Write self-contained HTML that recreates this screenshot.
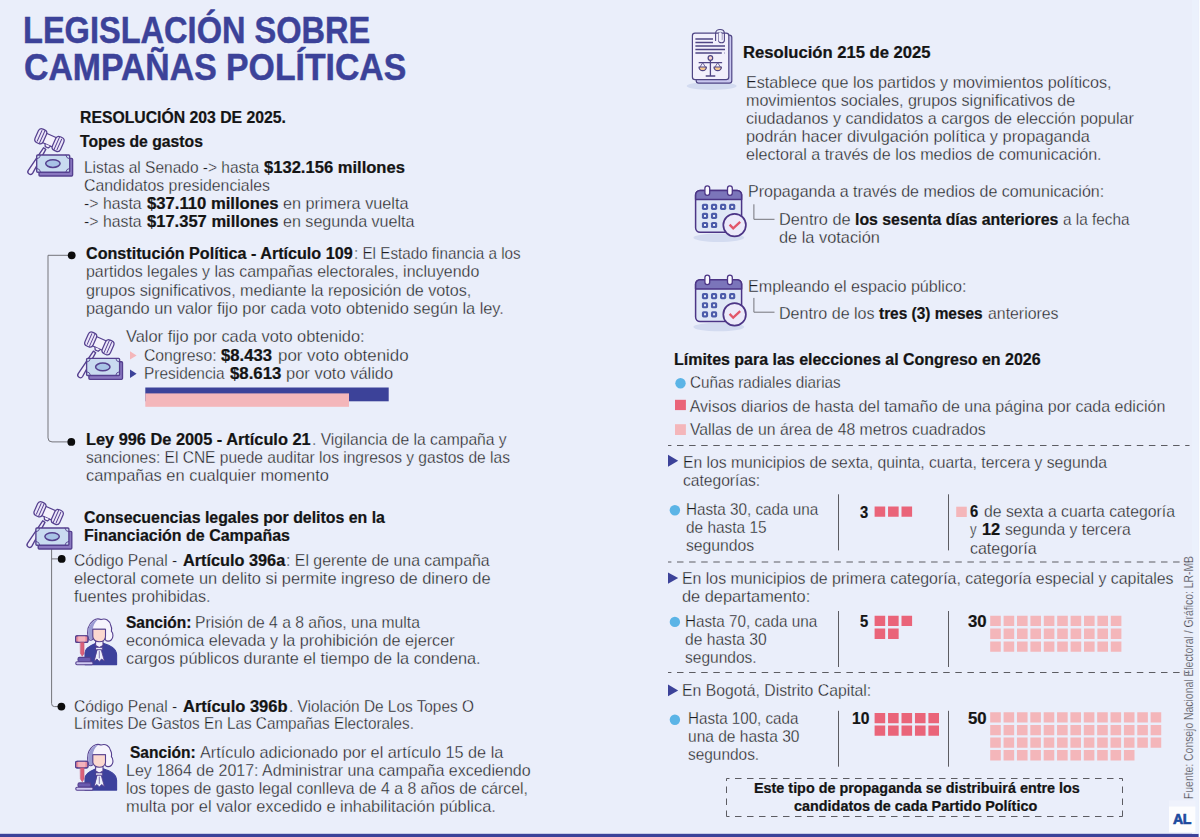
<!DOCTYPE html>
<html lang="es"><head><meta charset="utf-8"><title>Legislación sobre campañas políticas</title>
<style>
html,body{margin:0;padding:0}
body{background:#eaeefa;width:1200px;height:837px;overflow:hidden;font-family:"Liberation Sans",sans-serif}
#page{position:relative;width:1200px;height:837px;background:#eaeefa;overflow:hidden}
#art{position:absolute;left:0;top:0}
.t{position:absolute;white-space:nowrap;transform-origin:0 0;color:#1c1c22;line-height:normal;-webkit-text-stroke:0.3px #eaeefa}
.t b{color:#141414;font-weight:bold;-webkit-text-stroke:0.22px #141414}
.t.c b{color:inherit;-webkit-text-stroke:0.45px #3c4299}
#src{position:absolute;left:1182.2px;top:799px;width:260px;height:14px;transform-origin:0 0;transform:rotate(-90deg);font-size:12.5px;line-height:14px;color:#3a3a42;white-space:nowrap;-webkit-text-stroke:0.25px #eaeefa}
#src span{display:inline-block;transform-origin:0 0}
.t.c{-webkit-text-stroke:0.45px #3c4299}

</style></head>
<body>
<div id="page">
<svg id="art" width="1200" height="837" viewBox="0 0 1200 837">
<rect x="0" y="833.8" width="1198.6" height="3.2" fill="#3c4299"/>
<rect x="1192" y="0" width="6.4" height="833.8" fill="#ebf1fc"/>
<rect x="1199" y="0" width="1" height="837" fill="#fafcfd"/>
<path d="M71.7 255.3 H48 V437.9 Q48 441.9 52 441.9 H71.2" fill="none" stroke="#74747a" stroke-width="1"/>
<circle cx="71.7" cy="255.3" r="3.9" fill="#0c0c0c"/>
<circle cx="71.3" cy="441.9" r="3.9" fill="#0c0c0c"/>
<path d="M51.6 548.5 V703.6 Q51.6 706.6 54.6 706.6 H61.4 M51.6 558.9 H61.7" fill="none" stroke="#74747a" stroke-width="1"/>
<circle cx="61.7" cy="558.9" r="3.9" fill="#0c0c0c"/>
<circle cx="61.4" cy="706.6" r="3.9" fill="#0c0c0c"/>
<rect x="145.3" y="387.5" width="243.4" height="13.8" fill="#3c4299"/>
<rect x="145.3" y="393.4" width="203.7" height="13.4" fill="#f4b6ba"/>
<path d="M130 351.2 L136.6 355.4 L130 359.6 Z" fill="#f4b6ba"/>
<path d="M130 369.6 L136.6 373.8 L130 378 Z" fill="#3c4299"/>
<g transform="translate(19.2 119.2)"><g fill="none" stroke="#55408f" stroke-width="1.35" stroke-linejoin="round" stroke-linecap="round">
<path d="M24.3 28.6 L9.1 51.2 A2.6 2.6 0 0 0 13.5 54 L26.6 30.2 Z" fill="#f1eefb"/>
<g transform="translate(30.2 20.8) rotate(24) scale(0.92) translate(-30.2 -20.6)">
<rect x="23.6" y="15.2" width="13.4" height="11" fill="#f4f1fc"/>
<rect x="15.2" y="12.6" width="9.6" height="16.2" rx="3.8" fill="#ece6fa"/>
<rect x="35.8" y="12.6" width="9.6" height="16.2" rx="3.8" fill="#ece6fa"/>
<path d="M18.6 14.4V27M21.7 13.4V28M39 13.4V28M42 14.4V27" stroke-width="1"/>
<path d="M27.6 26.4 l1.4 2.6 h3.6 l1.4 -2.6" fill="#f4f1fc"/>
</g>
<rect x="19.8" y="39.2" width="33.6" height="17.6" rx="1" fill="#8a78c0"/>
<rect x="17.5" y="35.8" width="33" height="17.2" rx="1" fill="#c9dbf0"/>
<path d="M17.8 39.6 q3.2 -0.4 3.6 -3.6M50.2 39.6 q-3.2 -0.4 -3.6 -3.6M17.8 49.2 q3.2 0.4 3.6 3.6M50.2 49.2 q-3.2 0.4 -3.6 3.6" stroke-width="0.9"/>
<ellipse cx="33.7" cy="44.4" rx="7.2" ry="3.8" fill="#a8c3e6" stroke-width="1.5"/>
</g></g>
<g transform="translate(69.1 322.5)"><g fill="none" stroke="#55408f" stroke-width="1.35" stroke-linejoin="round" stroke-linecap="round">
<path d="M24.3 28.6 L9.1 51.2 A2.6 2.6 0 0 0 13.5 54 L26.6 30.2 Z" fill="#f1eefb"/>
<g transform="translate(30.2 20.8) rotate(24) scale(0.92) translate(-30.2 -20.6)">
<rect x="23.6" y="15.2" width="13.4" height="11" fill="#f4f1fc"/>
<rect x="15.2" y="12.6" width="9.6" height="16.2" rx="3.8" fill="#ece6fa"/>
<rect x="35.8" y="12.6" width="9.6" height="16.2" rx="3.8" fill="#ece6fa"/>
<path d="M18.6 14.4V27M21.7 13.4V28M39 13.4V28M42 14.4V27" stroke-width="1"/>
<path d="M27.6 26.4 l1.4 2.6 h3.6 l1.4 -2.6" fill="#f4f1fc"/>
</g>
<rect x="19.8" y="39.2" width="33.6" height="17.6" rx="1" fill="#8a78c0"/>
<rect x="17.5" y="35.8" width="33" height="17.2" rx="1" fill="#c9dbf0"/>
<path d="M17.8 39.6 q3.2 -0.4 3.6 -3.6M50.2 39.6 q-3.2 -0.4 -3.6 -3.6M17.8 49.2 q3.2 0.4 3.6 3.6M50.2 49.2 q-3.2 0.4 -3.6 3.6" stroke-width="0.9"/>
<ellipse cx="33.7" cy="44.4" rx="7.2" ry="3.8" fill="#a8c3e6" stroke-width="1.5"/>
</g></g>
<g transform="translate(18.4 492.2)"><g fill="none" stroke="#55408f" stroke-width="1.35" stroke-linejoin="round" stroke-linecap="round">
<path d="M24.3 28.6 L9.1 51.2 A2.6 2.6 0 0 0 13.5 54 L26.6 30.2 Z" fill="#f1eefb"/>
<g transform="translate(30.2 20.8) rotate(24) scale(0.92) translate(-30.2 -20.6)">
<rect x="23.6" y="15.2" width="13.4" height="11" fill="#f4f1fc"/>
<rect x="15.2" y="12.6" width="9.6" height="16.2" rx="3.8" fill="#ece6fa"/>
<rect x="35.8" y="12.6" width="9.6" height="16.2" rx="3.8" fill="#ece6fa"/>
<path d="M18.6 14.4V27M21.7 13.4V28M39 13.4V28M42 14.4V27" stroke-width="1"/>
<path d="M27.6 26.4 l1.4 2.6 h3.6 l1.4 -2.6" fill="#f4f1fc"/>
</g>
<rect x="19.8" y="39.2" width="33.6" height="17.6" rx="1" fill="#8a78c0"/>
<rect x="17.5" y="35.8" width="33" height="17.2" rx="1" fill="#c9dbf0"/>
<path d="M17.8 39.6 q3.2 -0.4 3.6 -3.6M50.2 39.6 q-3.2 -0.4 -3.6 -3.6M17.8 49.2 q3.2 0.4 3.6 3.6M50.2 49.2 q-3.2 0.4 -3.6 3.6" stroke-width="0.9"/>
<ellipse cx="33.7" cy="44.4" rx="7.2" ry="3.8" fill="#a8c3e6" stroke-width="1.5"/>
</g></g>
<g transform="translate(68 612)"><g stroke="#55408f" stroke-width="1.1" stroke-linejoin="round" stroke-linecap="round">
<path d="M17 52.6 V41 C17 36 22 33.6 27.4 31.4 L35.2 31.4 C42 33.4 48.4 36 48.6 43 V52.6 Z" fill="#3d419c" stroke="#3d419c"/>
<path d="M27.6 29 V33.4 L31.3 35.6 L35 33.4 V29 Z" fill="#f6f3fd"/>
<path d="M28 35.4 H34.4 V37.8 H28 Z" fill="#eef0fb" stroke-width="0.8"/>
<path d="M29.4 37.8 H33.2 L36.4 49 L33.6 47 L31.3 49.4 L29 47 L26.4 49 Z" fill="#eef0fb" stroke-width="0.8"/>
<path d="M31.3 39.5 V46" stroke-width="0.7" fill="none"/>
<path d="M20.4 26.8 C18.4 18 19.6 12.6 25.4 8.4 C28 6.6 30.6 6.4 33 7.6 C37.4 5.8 42 8.4 42.8 13.6 C44 15.4 43.6 17.4 43.4 19.2 C45.6 21.6 45.4 26 43.2 28 C41.2 29.8 38.2 29.4 37.2 27.4 L37.4 17.2 L24.8 17.2 L24.8 27.2 C23.6 28.6 21.4 28.6 20.4 26.8 Z" fill="#f6f4fd"/>
<path d="M20.8 26.4 C19.2 18.4 20.2 13.4 25.6 9.2 C27 8.2 28.6 7.6 30 7.6 C26.6 10.6 25 14 24.9 17.4 L24.8 26.8 C23.6 28 21.8 28 20.8 26.4 Z" fill="#9a9bd2" stroke="none"/>
<path d="M24.8 17.2 H37.5 V24.2 C37.5 27.6 34.8 29.8 31.2 29.8 C27.6 29.8 24.8 27.6 24.8 24.2 Z" fill="#fbd8cf"/>
<rect x="7.6" y="23.8" width="12.4" height="6.6" rx="1.4" fill="#e88a9c"/>
<rect x="10.2" y="23.8" width="7.2" height="6.6" fill="#f3b3bd" stroke="none"/>
<rect x="7.6" y="23.8" width="12.4" height="6.6" rx="1.4" fill="none"/>
<path d="M12.6 30.4 H16 V41.6 L14.3 44.2 L12.6 41.6 Z" fill="#dc6079" stroke="#c45a78" stroke-width="0.7"/>
<rect x="10" y="45.4" width="12.8" height="4.2" rx="1.6" fill="#6b5bb0"/>
<rect x="7.8" y="49.8" width="17.2" height="3" rx="1.2" fill="#cfc9f1"/>
</g></g>
<g transform="translate(68 737.5)"><g stroke="#55408f" stroke-width="1.1" stroke-linejoin="round" stroke-linecap="round">
<path d="M17 52.6 V41 C17 36 22 33.6 27.4 31.4 L35.2 31.4 C42 33.4 48.4 36 48.6 43 V52.6 Z" fill="#3d419c" stroke="#3d419c"/>
<path d="M27.6 29 V33.4 L31.3 35.6 L35 33.4 V29 Z" fill="#f6f3fd"/>
<path d="M28 35.4 H34.4 V37.8 H28 Z" fill="#eef0fb" stroke-width="0.8"/>
<path d="M29.4 37.8 H33.2 L36.4 49 L33.6 47 L31.3 49.4 L29 47 L26.4 49 Z" fill="#eef0fb" stroke-width="0.8"/>
<path d="M31.3 39.5 V46" stroke-width="0.7" fill="none"/>
<path d="M20.4 26.8 C18.4 18 19.6 12.6 25.4 8.4 C28 6.6 30.6 6.4 33 7.6 C37.4 5.8 42 8.4 42.8 13.6 C44 15.4 43.6 17.4 43.4 19.2 C45.6 21.6 45.4 26 43.2 28 C41.2 29.8 38.2 29.4 37.2 27.4 L37.4 17.2 L24.8 17.2 L24.8 27.2 C23.6 28.6 21.4 28.6 20.4 26.8 Z" fill="#f6f4fd"/>
<path d="M20.8 26.4 C19.2 18.4 20.2 13.4 25.6 9.2 C27 8.2 28.6 7.6 30 7.6 C26.6 10.6 25 14 24.9 17.4 L24.8 26.8 C23.6 28 21.8 28 20.8 26.4 Z" fill="#9a9bd2" stroke="none"/>
<path d="M24.8 17.2 H37.5 V24.2 C37.5 27.6 34.8 29.8 31.2 29.8 C27.6 29.8 24.8 27.6 24.8 24.2 Z" fill="#fbd8cf"/>
<rect x="7.6" y="23.8" width="12.4" height="6.6" rx="1.4" fill="#e88a9c"/>
<rect x="10.2" y="23.8" width="7.2" height="6.6" fill="#f3b3bd" stroke="none"/>
<rect x="7.6" y="23.8" width="12.4" height="6.6" rx="1.4" fill="none"/>
<path d="M12.6 30.4 H16 V41.6 L14.3 44.2 L12.6 41.6 Z" fill="#dc6079" stroke="#c45a78" stroke-width="0.7"/>
<rect x="10" y="45.4" width="12.8" height="4.2" rx="1.6" fill="#6b5bb0"/>
<rect x="7.8" y="49.8" width="17.2" height="3" rx="1.2" fill="#cfc9f1"/>
</g></g>
<g transform="translate(682 24)"><g stroke="#4f4584" stroke-width="1.2" stroke-linejoin="round" stroke-linecap="round" fill="none">
<ellipse cx="29.7" cy="62" rx="25" ry="3.9" fill="#d3dbf0" stroke="none"/>
<rect x="14.2" y="11.2" width="35.6" height="48" rx="2.4" fill="#c9c7ef"/>
<rect x="10.4" y="9.1" width="36.4" height="46.6" rx="2.6" fill="#f2f0fc"/>
<path d="M13.4 15H31M13.4 18.5H31M13.4 22H43M13.4 25.5H43M13.4 29H39.8M42.2 29H42.6" stroke-width="1.5" stroke-linecap="butt"/>
<path d="M33.6 16.4 V9.4 C33.6 4.2 42.4 4.2 42.4 9.4 V16.2 C42.4 19.6 36.6 19.6 36.6 16.2 V10.2 C36.6 7.6 39.8 7.6 39.8 10.2 V15.6" fill="none" stroke-width="1.1"/>
<path d="M36.6 16.2 V10.2 C36.6 7.6 39.8 7.6 39.8 10.2 V16.2 C39.8 18 36.6 18 36.6 16.2Z" fill="#f2f0fc" stroke="none"/>
<path d="M28.4 36.4 V51.4M24.2 52H32.8M17.2 38.7H39.6" stroke-width="1.3"/>
<circle cx="28.4" cy="34" r="2.3" fill="#fbd8cf"/>
<path d="M17 43 H24.4 A3.7 3.7 0 0 1 17 43Z" fill="#f6c88e"/>
<path d="M32 43 H39.4 A3.7 3.7 0 0 1 32 43Z" fill="#f6c88e"/>
<path d="M20.7 38.7 L18 43M20.7 38.7 L23.4 43M35.7 38.7 L33 43M35.7 38.7 L38.4 43" stroke-width="0.8"/>
</g></g>
<g transform="translate(688 180)"><g stroke="#4c3586" stroke-width="1.5" stroke-linejoin="round" stroke-linecap="round" fill="none">
<ellipse cx="30.8" cy="57.7" rx="25.4" ry="4.3" fill="#d3dbf0" stroke="none"/>
<rect x="7.6" y="10.4" width="46" height="41.8" rx="4.4" fill="#dfe7f6"/>
<path d="M7.6 19.6 V14.8 A4.4 4.4 0 0 1 12 10.4 H49.2 A4.4 4.4 0 0 1 53.6 14.8 V19.6 Z" fill="#7b75ba"/>
<rect x="16.9" y="5.9" width="4.8" height="9.4" rx="2.4" fill="#fbfaff" stroke-width="1.3"/>
<rect x="39.5" y="5.9" width="4.8" height="9.4" rx="2.4" fill="#fbfaff" stroke-width="1.3"/>
<rect x="13.90" y="23.80" width="6.2" height="6.2" rx="1.7" fill="#4b5ba9" stroke="none"/><rect x="16.00" y="25.90" width="2" height="2" fill="#e9edf9" stroke="none"/><rect x="22.95" y="23.80" width="6.2" height="6.2" rx="1.7" fill="#4b5ba9" stroke="none"/><rect x="25.05" y="25.90" width="2" height="2" fill="#e9edf9" stroke="none"/><rect x="32.00" y="23.80" width="6.2" height="6.2" rx="1.7" fill="#4b5ba9" stroke="none"/><rect x="34.10" y="25.90" width="2" height="2" fill="#e9edf9" stroke="none"/><rect x="41.05" y="23.80" width="6.2" height="6.2" rx="1.7" fill="#4b5ba9" stroke="none"/><rect x="43.15" y="25.90" width="2" height="2" fill="#e9edf9" stroke="none"/><rect x="13.90" y="32.85" width="6.2" height="6.2" rx="1.7" fill="#4b5ba9" stroke="none"/><rect x="16.00" y="34.95" width="2" height="2" fill="#e9edf9" stroke="none"/><rect x="22.95" y="32.85" width="6.2" height="6.2" rx="1.7" fill="#4b5ba9" stroke="none"/><rect x="25.05" y="34.95" width="2" height="2" fill="#e9edf9" stroke="none"/><rect x="13.90" y="41.90" width="6.2" height="6.2" rx="1.7" fill="#4b5ba9" stroke="none"/><rect x="16.00" y="44.00" width="2" height="2" fill="#e9edf9" stroke="none"/><rect x="22.95" y="41.90" width="6.2" height="6.2" rx="1.7" fill="#4b5ba9" stroke="none"/><rect x="25.05" y="44.00" width="2" height="2" fill="#e9edf9" stroke="none"/>
<circle cx="46.6" cy="45.1" r="11.3" fill="#eceafa" stroke-width="1.7"/>
<path d="M41.6 44.6 L45.2 48.4 L52.2 41.8" stroke="#e2566a" stroke-width="2.3" stroke-linejoin="miter" stroke-linecap="butt"/>
</g></g>
<g transform="translate(688 269.3)"><g stroke="#4c3586" stroke-width="1.5" stroke-linejoin="round" stroke-linecap="round" fill="none">
<ellipse cx="30.8" cy="57.7" rx="25.4" ry="4.3" fill="#d3dbf0" stroke="none"/>
<rect x="7.6" y="10.4" width="46" height="41.8" rx="4.4" fill="#dfe7f6"/>
<path d="M7.6 19.6 V14.8 A4.4 4.4 0 0 1 12 10.4 H49.2 A4.4 4.4 0 0 1 53.6 14.8 V19.6 Z" fill="#7b75ba"/>
<rect x="16.9" y="5.9" width="4.8" height="9.4" rx="2.4" fill="#fbfaff" stroke-width="1.3"/>
<rect x="39.5" y="5.9" width="4.8" height="9.4" rx="2.4" fill="#fbfaff" stroke-width="1.3"/>
<rect x="13.90" y="23.80" width="6.2" height="6.2" rx="1.7" fill="#4b5ba9" stroke="none"/><rect x="16.00" y="25.90" width="2" height="2" fill="#e9edf9" stroke="none"/><rect x="22.95" y="23.80" width="6.2" height="6.2" rx="1.7" fill="#4b5ba9" stroke="none"/><rect x="25.05" y="25.90" width="2" height="2" fill="#e9edf9" stroke="none"/><rect x="32.00" y="23.80" width="6.2" height="6.2" rx="1.7" fill="#4b5ba9" stroke="none"/><rect x="34.10" y="25.90" width="2" height="2" fill="#e9edf9" stroke="none"/><rect x="41.05" y="23.80" width="6.2" height="6.2" rx="1.7" fill="#4b5ba9" stroke="none"/><rect x="43.15" y="25.90" width="2" height="2" fill="#e9edf9" stroke="none"/><rect x="13.90" y="32.85" width="6.2" height="6.2" rx="1.7" fill="#4b5ba9" stroke="none"/><rect x="16.00" y="34.95" width="2" height="2" fill="#e9edf9" stroke="none"/><rect x="22.95" y="32.85" width="6.2" height="6.2" rx="1.7" fill="#4b5ba9" stroke="none"/><rect x="25.05" y="34.95" width="2" height="2" fill="#e9edf9" stroke="none"/><rect x="13.90" y="41.90" width="6.2" height="6.2" rx="1.7" fill="#4b5ba9" stroke="none"/><rect x="16.00" y="44.00" width="2" height="2" fill="#e9edf9" stroke="none"/><rect x="22.95" y="41.90" width="6.2" height="6.2" rx="1.7" fill="#4b5ba9" stroke="none"/><rect x="25.05" y="44.00" width="2" height="2" fill="#e9edf9" stroke="none"/>
<circle cx="46.6" cy="45.1" r="11.3" fill="#eceafa" stroke-width="1.7"/>
<path d="M41.6 44.6 L45.2 48.4 L52.2 41.8" stroke="#e2566a" stroke-width="2.3" stroke-linejoin="miter" stroke-linecap="butt"/>
</g></g>
<path d="M753.9 204.3 V219.3 H774.5 M753.9 297.9 V312.2 H774.5" fill="none" stroke="#74747a" stroke-width="1"/>
<circle cx="680.5" cy="383.3" r="5.2" fill="#5bb4e6"/>
<rect x="675" y="399.8" width="10.9" height="10.3" fill="#ea6479"/>
<rect x="675" y="424.2" width="10.9" height="10.8" fill="#f4b6ba"/>
<line x1="668" y1="445.5" x2="1189.5" y2="445.5" stroke="#5c5c62" stroke-width="1" stroke-dasharray="6.5 5.6" stroke-dashoffset="3.1"/>
<line x1="668" y1="562" x2="1189.5" y2="562" stroke="#5c5c62" stroke-width="1" stroke-dasharray="6.5 5.6" stroke-dashoffset="3.1"/>
<line x1="668" y1="672.5" x2="1189.5" y2="672.5" stroke="#5c5c62" stroke-width="1" stroke-dasharray="6.5 5.6" stroke-dashoffset="3.1"/>
<path d="M668 454.7 L678.2 460.8 L668 466.8 Z" fill="#3c4299"/>
<path d="M668 572.5 L678.2 578.1 L668 583.7 Z" fill="#3c4299"/>
<path d="M668 684.5 L678.2 690.4 L668 696.3 Z" fill="#3c4299"/>
<circle cx="674.9" cy="510.2" r="5.2" fill="#5bb4e6"/>
<circle cx="674.9" cy="621.9" r="5.2" fill="#5bb4e6"/>
<circle cx="674.9" cy="719.7" r="5.2" fill="#5bb4e6"/>
<path d="M838.5 494.3 V550.4 M948.5 494.3 V550.4" stroke="#5c5c62" stroke-width="1" fill="none"/>
<path d="M838.5 611 V667 M948.5 611 V667" stroke="#5c5c62" stroke-width="1" fill="none"/>
<path d="M838.5 710.8 V766.7 M948.5 710.8 V766.7" stroke="#5c5c62" stroke-width="1" fill="none"/>
<path d="M874.60 506.40h10.6v10.3h-10.6zM888.05 506.40h10.6v10.3h-10.6zM901.50 506.40h10.6v10.3h-10.6z" fill="#ea6479"/>
<path d="M956.20 506.70h10.6v10.3h-10.6z" fill="#f4b6ba"/>
<path d="M874.60 615.70h10.6v10.3h-10.6zM888.05 615.70h10.6v10.3h-10.6zM901.50 615.70h10.6v10.3h-10.6zM874.60 628.60h10.6v10.3h-10.6zM888.05 628.60h10.6v10.3h-10.6z" fill="#ea6479"/>
<path d="M990.20 615.70h10.6v10.3h-10.6zM1003.60 615.70h10.6v10.3h-10.6zM1017.00 615.70h10.6v10.3h-10.6zM1030.40 615.70h10.6v10.3h-10.6zM1043.80 615.70h10.6v10.3h-10.6zM1057.20 615.70h10.6v10.3h-10.6zM1070.60 615.70h10.6v10.3h-10.6zM1084.00 615.70h10.6v10.3h-10.6zM1097.40 615.70h10.6v10.3h-10.6zM1110.80 615.70h10.6v10.3h-10.6zM990.20 628.60h10.6v10.3h-10.6zM1003.60 628.60h10.6v10.3h-10.6zM1017.00 628.60h10.6v10.3h-10.6zM1030.40 628.60h10.6v10.3h-10.6zM1043.80 628.60h10.6v10.3h-10.6zM1057.20 628.60h10.6v10.3h-10.6zM1070.60 628.60h10.6v10.3h-10.6zM1084.00 628.60h10.6v10.3h-10.6zM1097.40 628.60h10.6v10.3h-10.6zM1110.80 628.60h10.6v10.3h-10.6zM990.20 641.50h10.6v10.3h-10.6zM1003.60 641.50h10.6v10.3h-10.6zM1017.00 641.50h10.6v10.3h-10.6zM1030.40 641.50h10.6v10.3h-10.6zM1043.80 641.50h10.6v10.3h-10.6zM1057.20 641.50h10.6v10.3h-10.6zM1070.60 641.50h10.6v10.3h-10.6zM1084.00 641.50h10.6v10.3h-10.6zM1097.40 641.50h10.6v10.3h-10.6zM1110.80 641.50h10.6v10.3h-10.6z" fill="#f4b6ba"/>
<path d="M874.60 713.00h10.6v10.3h-10.6zM888.05 713.00h10.6v10.3h-10.6zM901.50 713.00h10.6v10.3h-10.6zM914.95 713.00h10.6v10.3h-10.6zM928.40 713.00h10.6v10.3h-10.6zM874.60 725.50h10.6v10.3h-10.6zM888.05 725.50h10.6v10.3h-10.6zM901.50 725.50h10.6v10.3h-10.6zM914.95 725.50h10.6v10.3h-10.6zM928.40 725.50h10.6v10.3h-10.6z" fill="#ea6479"/>
<path d="M990.20 712.30h10.6v10.3h-10.6zM1003.57 712.30h10.6v10.3h-10.6zM1016.94 712.30h10.6v10.3h-10.6zM1030.31 712.30h10.6v10.3h-10.6zM1043.68 712.30h10.6v10.3h-10.6zM1057.05 712.30h10.6v10.3h-10.6zM1070.42 712.30h10.6v10.3h-10.6zM1083.79 712.30h10.6v10.3h-10.6zM1097.16 712.30h10.6v10.3h-10.6zM1110.53 712.30h10.6v10.3h-10.6zM1123.90 712.30h10.6v10.3h-10.6zM1137.27 712.30h10.6v10.3h-10.6zM1150.64 712.30h10.6v10.3h-10.6zM990.20 724.90h10.6v10.3h-10.6zM1003.57 724.90h10.6v10.3h-10.6zM1016.94 724.90h10.6v10.3h-10.6zM1030.31 724.90h10.6v10.3h-10.6zM1043.68 724.90h10.6v10.3h-10.6zM1057.05 724.90h10.6v10.3h-10.6zM1070.42 724.90h10.6v10.3h-10.6zM1083.79 724.90h10.6v10.3h-10.6zM1097.16 724.90h10.6v10.3h-10.6zM1110.53 724.90h10.6v10.3h-10.6zM1123.90 724.90h10.6v10.3h-10.6zM1137.27 724.90h10.6v10.3h-10.6zM1150.64 724.90h10.6v10.3h-10.6zM990.20 737.50h10.6v10.3h-10.6zM1003.57 737.50h10.6v10.3h-10.6zM1016.94 737.50h10.6v10.3h-10.6zM1030.31 737.50h10.6v10.3h-10.6zM1043.68 737.50h10.6v10.3h-10.6zM1057.05 737.50h10.6v10.3h-10.6zM1070.42 737.50h10.6v10.3h-10.6zM1083.79 737.50h10.6v10.3h-10.6zM1097.16 737.50h10.6v10.3h-10.6zM1110.53 737.50h10.6v10.3h-10.6zM1123.90 737.50h10.6v10.3h-10.6zM1137.27 737.50h10.6v10.3h-10.6zM1150.64 737.50h10.6v10.3h-10.6zM990.20 750.10h10.6v10.3h-10.6zM1003.57 750.10h10.6v10.3h-10.6zM1016.94 750.10h10.6v10.3h-10.6zM1030.31 750.10h10.6v10.3h-10.6zM1043.68 750.10h10.6v10.3h-10.6zM1057.05 750.10h10.6v10.3h-10.6zM1070.42 750.10h10.6v10.3h-10.6zM1083.79 750.10h10.6v10.3h-10.6zM1097.16 750.10h10.6v10.3h-10.6zM1110.53 750.10h10.6v10.3h-10.6zM1123.90 750.10h10.6v10.3h-10.6z" fill="#f4b6ba"/>
<path d="M726.5 778.5 H1122.5 M726.5 816.5 H1122.5" fill="none" stroke="#5c5c62" stroke-width="1" stroke-dasharray="6.5 5.5" stroke-dashoffset="3.5"/>
<path d="M726.5 778.5 V816.5 M1122.5 778.5 V816.5" fill="none" stroke="#5c5c62" stroke-width="1" stroke-dasharray="6.5 5.5" stroke-dashoffset="4"/>
<rect x="1169" y="800.5" width="26.5" height="6" fill="#eff2fc"/>
<rect x="1169" y="806.5" width="26.3" height="25.8" fill="#fdfdfe"/>
</svg>
<div id="al" style="position:absolute;left:1172.8px;top:810.2px;font-size:15.2px;line-height:normal;font-weight:bold;color:#1d4a9e;transform-origin:0 0;transform:scaleX(0.93);-webkit-text-stroke:0.7px #1d4a9e;letter-spacing:-0.4px">AL</div>
<div id="src"><span id="srcs" style="transform:scaleX(0.8308)">Fuente: Consejo Nacional Electoral / Gráfico: LR-MB</span></div>
<div class="t c" id="l0" style="left:22.6px;top:10.00px;font-size:36px;transform:scaleX(0.9044);color:#3c4299"><b>LEGISLACIÓN SOBRE</b></div>
<div class="t c" id="l1" style="left:23.6px;top:47.00px;font-size:36px;transform:scaleX(0.9385);color:#3c4299"><b>CAMPAÑAS POLÍTICAS</b></div>
<div class="t" id="l2" style="left:79.7px;top:109.00px;font-size:16px;transform:scaleX(0.9853)"><b>RESOLUCIÓN 203 DE 2025.</b></div>
<div class="t" id="l3" style="left:80.4px;top:133.00px;font-size:16px;transform:scaleX(0.9827)"><b>Topes de gastos</b></div>
<div class="t" id="l4" style="left:84.4px;top:159.00px;font-size:16px;transform:scaleX(0.9679)">Listas al Senado -&gt; hasta</div>
<div class="t" id="l5" style="left:264.4px;top:159.00px;font-size:16px;transform:scaleX(1.0353)"><b>$132.156 millones</b></div>
<div class="t" id="l6" style="left:84.4px;top:177.00px;font-size:16px;transform:scaleX(0.9906)">Candidatos presidenciales</div>
<div class="t" id="l7" style="left:84.4px;top:195.00px;font-size:16px;transform:scaleX(0.9886)">-&gt; hasta</div>
<div class="t" id="l8" style="left:147.1px;top:195.00px;font-size:16px;transform:scaleX(1.0411)"><b>$37.110 millones</b></div>
<div class="t" id="l9" style="left:283.1px;top:195.00px;font-size:16px;transform:scaleX(1.0152)">en primera vuelta</div>
<div class="t" id="l10" style="left:84.4px;top:213.00px;font-size:16px;transform:scaleX(0.9886)">-&gt; hasta</div>
<div class="t" id="l11" style="left:147.1px;top:213.00px;font-size:16px;transform:scaleX(1.0339)"><b>$17.357 millones</b></div>
<div class="t" id="l12" style="left:283.1px;top:213.00px;font-size:16px;transform:scaleX(1.0055)">en segunda vuelta</div>
<div class="t" id="l13" style="left:86.4px;top:245.00px;font-size:16px;transform:scaleX(1.0086)"><b>Constitución Política - Artículo 109</b></div>
<div class="t" id="l14" style="left:353.6px;top:245.00px;font-size:16px;transform:scaleX(0.9514)">: El Estado financia a los</div>
<div class="t" id="l15" style="left:85.7px;top:263.00px;font-size:16px;transform:scaleX(0.9960)">partidos legales y las campañas electorales, incluyendo</div>
<div class="t" id="l16" style="left:85.7px;top:282.00px;font-size:16px;transform:scaleX(1.0075)">grupos significativos, mediante la reposición de votos,</div>
<div class="t" id="l17" style="left:85.7px;top:300.00px;font-size:16px;transform:scaleX(1.0220)">pagando un valor fijo por cada voto obtenido según la ley.</div>
<div class="t" id="l18" style="left:125.7px;top:328.00px;font-size:16px;transform:scaleX(1.0251)">Valor fijo por cada voto obtenido:</div>
<div class="t" id="l19" style="left:143.7px;top:347.00px;font-size:16px;transform:scaleX(0.9834)">Congreso:</div>
<div class="t" id="l20" style="left:221.1px;top:347.00px;font-size:16px;transform:scaleX(1.0401)"><b>$8.433</b></div>
<div class="t" id="l21" style="left:277.7px;top:347.00px;font-size:16px;transform:scaleX(1.0562)">por voto obtenido</div>
<div class="t" id="l22" style="left:143.7px;top:365.00px;font-size:16px;transform:scaleX(0.9640)">Presidencia</div>
<div class="t" id="l23" style="left:229.7px;top:365.00px;font-size:16px;transform:scaleX(1.0483)"><b>$8.613</b></div>
<div class="t" id="l24" style="left:286.4px;top:365.00px;font-size:16px;transform:scaleX(1.0302)">por voto válido</div>
<div class="t" id="l25" style="left:85.7px;top:431.00px;font-size:16px;transform:scaleX(1.0211)"><b>Ley 996 De 2005 - Artículo 21</b></div>
<div class="t" id="l26" style="left:311.6px;top:431.00px;font-size:16px;transform:scaleX(0.9787)">. Vigilancia de la campaña y</div>
<div class="t" id="l27" style="left:85.7px;top:449.00px;font-size:16px;transform:scaleX(0.9707)">sanciones: El CNE puede auditar los ingresos y gastos de las</div>
<div class="t" id="l28" style="left:85.7px;top:467.00px;font-size:16px;transform:scaleX(1.0267)">campañas en cualquier momento</div>
<div class="t" id="l29" style="left:84.4px;top:509.00px;font-size:16px;transform:scaleX(0.9924)"><b>Consecuencias legales por delitos en la</b></div>
<div class="t" id="l30" style="left:84.4px;top:527.00px;font-size:16px;transform:scaleX(0.9982)"><b>Financiación de Campañas</b></div>
<div class="t" id="l31" style="left:73.7px;top:552.00px;font-size:16px;transform:scaleX(0.9760)">Código Penal -</div>
<div class="t" id="l32" style="left:183.1px;top:552.00px;font-size:16px;transform:scaleX(1.0171)"><b>Artículo 396a</b></div>
<div class="t" id="l33" style="left:286.0px;top:552.00px;font-size:16px;transform:scaleX(0.9908)">: El gerente de una campaña</div>
<div class="t" id="l34" style="left:73.7px;top:570.00px;font-size:16px;transform:scaleX(1.0250)">electoral comete un delito si permite ingreso de dinero de</div>
<div class="t" id="l35" style="left:73.7px;top:588.00px;font-size:16px;transform:scaleX(1.0103)">fuentes prohibidas.</div>
<div class="t" id="l36" style="left:125.7px;top:614.00px;font-size:16px;transform:scaleX(0.9665)"><b>Sanción:</b></div>
<div class="t" id="l37" style="left:195.4px;top:614.00px;font-size:16px;transform:scaleX(0.9800)">Prisión de 4 a 8 años, una multa</div>
<div class="t" id="l38" style="left:125.7px;top:632.00px;font-size:16px;transform:scaleX(1.0122)">económica elevada y la prohibición de ejercer</div>
<div class="t" id="l39" style="left:125.7px;top:650.00px;font-size:16px;transform:scaleX(1.0170)">cargos públicos durante el tiempo de la condena.</div>
<div class="t" id="l40" style="left:73.7px;top:698.00px;font-size:16px;transform:scaleX(0.9760)">Código Penal -</div>
<div class="t" id="l41" style="left:183.1px;top:698.00px;font-size:16px;transform:scaleX(1.0310)"><b>Artículo 396b</b></div>
<div class="t" id="l42" style="left:288.7px;top:698.00px;font-size:16px;transform:scaleX(0.9609)">. Violación De Los Topes O</div>
<div class="t" id="l43" style="left:73.7px;top:715.00px;font-size:16px;transform:scaleX(0.9555)">Límites De Gastos En Las Campañas Electorales.</div>
<div class="t" id="l44" style="left:129.7px;top:744.00px;font-size:16px;transform:scaleX(0.9710)"><b>Sanción:</b></div>
<div class="t" id="l45" style="left:199.7px;top:744.00px;font-size:16px;transform:scaleX(1.0149)">Artículo adicionado por el artículo 15 de la</div>
<div class="t" id="l46" style="left:125.7px;top:762.00px;font-size:16px;transform:scaleX(0.9997)">Ley 1864 de 2017: Administrar una campaña excediendo</div>
<div class="t" id="l47" style="left:125.7px;top:780.00px;font-size:16px;transform:scaleX(0.9887)">los topes de gasto legal conlleva de 4 a 8 años de cárcel,</div>
<div class="t" id="l48" style="left:125.7px;top:798.00px;font-size:16px;transform:scaleX(1.0243)">multa por el valor excedido e inhabilitación pública.</div>
<div class="t" id="l49" style="left:742.7px;top:44.00px;font-size:16px;transform:scaleX(1.0392)"><b>Resolución 215 de 2025</b></div>
<div class="t" id="l50" style="left:746.4px;top:74.00px;font-size:16px;transform:scaleX(1.0101)">Establece que los partidos y movimientos políticos,</div>
<div class="t" id="l51" style="left:746.4px;top:92.00px;font-size:16px;transform:scaleX(1.0059)">movimientos sociales, grupos significativos de</div>
<div class="t" id="l52" style="left:746.4px;top:110.00px;font-size:16px;transform:scaleX(1.0071)">ciudadanos y candidatos a cargos de elección popular</div>
<div class="t" id="l53" style="left:746.4px;top:128.00px;font-size:16px;transform:scaleX(1.0228)">podrán hacer divulgación política y propaganda</div>
<div class="t" id="l54" style="left:746.4px;top:146.00px;font-size:16px;transform:scaleX(1.0046)">electoral a través de los medios de comunicación.</div>
<div class="t" id="l55" style="left:748.1px;top:183.00px;font-size:16px;transform:scaleX(1.0012)">Propaganda a través de medios de comunicación:</div>
<div class="t" id="l56" style="left:778.7px;top:211.00px;font-size:16px;transform:scaleX(1.0190)">Dentro de</div>
<div class="t" id="l57" style="left:854.7px;top:211.00px;font-size:16px;transform:scaleX(0.9896)"><b>los sesenta días anteriores</b></div>
<div class="t" id="l58" style="left:1063.1px;top:211.00px;font-size:16px;transform:scaleX(0.9583)">a la fecha</div>
<div class="t" id="l59" style="left:778.7px;top:229.00px;font-size:16px;transform:scaleX(1.0219)">de la votación</div>
<div class="t" id="l60" style="left:747.9px;top:278.00px;font-size:16px;transform:scaleX(1.0063)">Empleando el espacio público:</div>
<div class="t" id="l61" style="left:778.7px;top:305.00px;font-size:16px;transform:scaleX(1.0045)">Dentro de los</div>
<div class="t" id="l62" style="left:879.4px;top:305.00px;font-size:16px;transform:scaleX(0.9626)"><b>tres (3) meses</b></div>
<div class="t" id="l63" style="left:988.1px;top:305.00px;font-size:16px;transform:scaleX(0.9908)">anteriores</div>
<div class="t" id="l64" style="left:673.7px;top:351.00px;font-size:16px;transform:scaleX(0.9981)"><b>Límites para las elecciones al Congreso en 2026</b></div>
<div class="t" id="l65" style="left:689.7px;top:374.00px;font-size:16px;transform:scaleX(0.9513)">Cuñas radiales diarias</div>
<div class="t" id="l66" style="left:689.7px;top:398.00px;font-size:16px;transform:scaleX(1.0000)">Avisos diarios de hasta del tamaño de una página por cada edición</div>
<div class="t" id="l67" style="left:689.7px;top:421.00px;font-size:16px;transform:scaleX(0.9842)">Vallas de un área de 48 metros cuadrados</div>
<div class="t" id="l68" style="left:683.1px;top:454.00px;font-size:16px;transform:scaleX(0.9807)">En los municipios de sexta, quinta, cuarta, tercera y segunda</div>
<div class="t" id="l69" style="left:683.1px;top:472.00px;font-size:16px;transform:scaleX(0.9753)">categorías:</div>
<div class="t" id="l70" style="left:686.4px;top:501.00px;font-size:16px;transform:scaleX(0.9527)">Hasta 30, cada una</div>
<div class="t" id="l71" style="left:686.4px;top:519.00px;font-size:16px;transform:scaleX(0.9638)">de hasta 15</div>
<div class="t" id="l72" style="left:686.4px;top:537.00px;font-size:16px;transform:scaleX(0.9828)">segundos</div>
<div class="t" id="l73" style="left:860.4px;top:504.00px;font-size:16px;transform:scaleX(0.9207)"><b>3</b></div>
<div class="t" id="l74" style="left:970.4px;top:503.00px;font-size:16px;transform:scaleX(0.9207)"><b>6</b></div>
<div class="t" id="l75" style="left:984.4px;top:503.00px;font-size:16px;transform:scaleX(0.9845)">de sexta a cuarta categoría</div>
<div class="t" id="l76" style="left:970.4px;top:521.00px;font-size:16px;transform:scaleX(0.8250)">y</div>
<div class="t" id="l77" style="left:982.1px;top:521.00px;font-size:16px;transform:scaleX(1.0227)"><b>12</b></div>
<div class="t" id="l78" style="left:1004.7px;top:521.00px;font-size:16px;transform:scaleX(0.9807)">segunda y tercera</div>
<div class="t" id="l79" style="left:970.4px;top:540.00px;font-size:16px;transform:scaleX(0.9982)">categoría</div>
<div class="t" id="l80" style="left:682.1px;top:570.00px;font-size:16px;transform:scaleX(0.9922)">En los municipios de primera categoría, categoría especial y capitales</div>
<div class="t" id="l81" style="left:682.1px;top:588.00px;font-size:16px;transform:scaleX(1.0222)">de departamento:</div>
<div class="t" id="l82" style="left:685.4px;top:613.00px;font-size:16px;transform:scaleX(0.9527)">Hasta 70, cada una</div>
<div class="t" id="l83" style="left:685.4px;top:631.00px;font-size:16px;transform:scaleX(0.9758)">de hasta 30</div>
<div class="t" id="l84" style="left:685.4px;top:649.00px;font-size:16px;transform:scaleX(0.9696)">segundos.</div>
<div class="t" id="l85" style="left:860.4px;top:613.00px;font-size:16px;transform:scaleX(0.9207)"><b>5</b></div>
<div class="t" id="l86" style="left:967.7px;top:613.00px;font-size:16px;transform:scaleX(1.0451)"><b>30</b></div>
<div class="t" id="l87" style="left:682.1px;top:682.00px;font-size:16px;transform:scaleX(0.9849)">En Bogotá, Distrito Capital:</div>
<div class="t" id="l88" style="left:687.9px;top:710.00px;font-size:16px;transform:scaleX(0.9474)">Hasta 100, cada</div>
<div class="t" id="l89" style="left:687.9px;top:728.00px;font-size:16px;transform:scaleX(0.9707)">una de hasta 30</div>
<div class="t" id="l90" style="left:687.9px;top:746.00px;font-size:16px;transform:scaleX(0.9635)">segundos.</div>
<div class="t" id="l91" style="left:852.4px;top:710.00px;font-size:16px;transform:scaleX(0.9777)"><b>10</b></div>
<div class="t" id="l92" style="left:967.7px;top:710.00px;font-size:16px;transform:scaleX(1.0451)"><b>50</b></div>
<div class="t" id="l93" style="left:753.8px;top:780.00px;font-size:14px;transform:scaleX(1.0264)"><b>Este tipo de propaganda se distribuirá entre los</b></div>
<div class="t" id="l94" style="left:794.4px;top:798.00px;font-size:14px;transform:scaleX(1.0283)"><b>candidatos de cada Partido Político</b></div>
</div>
</body></html>
